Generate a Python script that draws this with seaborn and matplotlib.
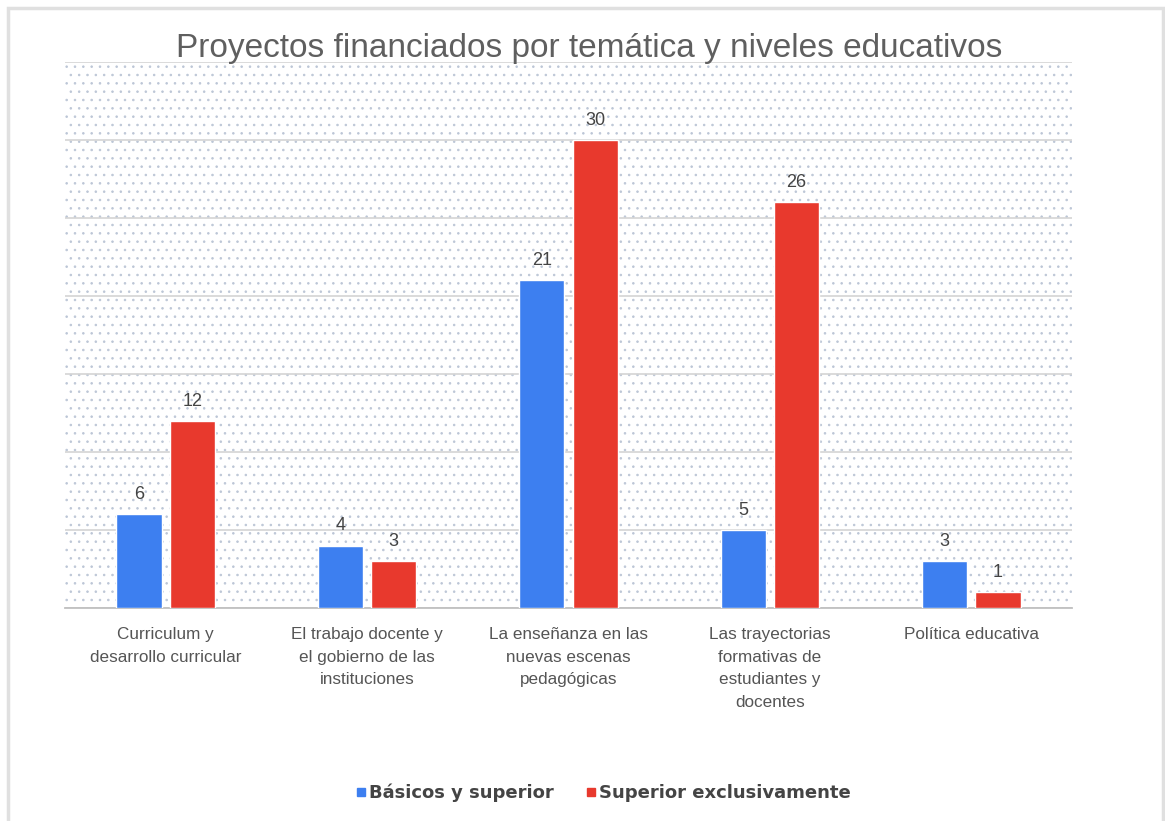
import matplotlib
matplotlib.use("Agg")
import matplotlib.pyplot as plt
import pandas as pd
import seaborn as sns
from matplotlib.lines import Line2D
from matplotlib.patches import Rectangle

TITLE = "Proyectos financiados por temática y niveles educativos"
CATEGORIES = [
    "Curriculum y\ndesarrollo curricular",
    "El trabajo docente y\nel gobierno de las\ninstituciones",
    "La enseñanza en las\nnuevas escenas\npedagógicas",
    "Las trayectorias\nformativas de\nestudiantes y\ndocentes",
    "Política educativa",
]
SERIES = ["Básicos y superior", "Superior exclusivamente"]
BASICOS = [6, 4, 21, 5, 3]
SUPERIOR = [12, 3, 30, 26, 1]
COLORS = ["#3d7ff0", "#e8392d"]

rows = []
for cat, b, s in zip(CATEGORIES, BASICOS, SUPERIOR):
    rows.append({"tema": cat, "nivel": SERIES[0], "valor": b})
    rows.append({"tema": cat, "nivel": SERIES[1], "valor": s})
df = pd.DataFrame(rows)

sns.set_theme(style="white")
plt.rcParams["font.family"] = ["Liberation Sans", "DejaVu Sans"]
plt.rcParams["hatch.linewidth"] = 0.6

fig = plt.figure(figsize=(11.65, 8.21), dpi=100)
fig.patch.set_facecolor("white")
# light frame around the whole chart
fig.patches.append(Rectangle((8 / 1165, -0.05), 1155 / 1165, 1.05 - 8 / 821,
                             transform=fig.transFigure, facecolor="none",
                             edgecolor="#e0e0e0", linewidth=2.5, zorder=0))

ax = fig.add_axes([65 / 1165, 1 - 608 / 821, 1007 / 1165, 546 / 821])
ax.set_facecolor("white")
# dotted background
ax.add_patch(Rectangle((0, 0), 1, 1, transform=ax.transAxes, facecolor="none",
                       edgecolor="#bcc6d6", linewidth=0, hatch="..", zorder=0))

sns.barplot(data=df, x="tema", y="valor", hue="nivel", palette=COLORS,
            width=0.53, gap=0.15, saturation=1, ax=ax, legend=False, zorder=3)

for container in ax.containers:
    ax.bar_label(container, padding=8, fontsize=13, color="#444444")

ax.set_ylim(0, 35)
ax.set_xlim(-0.5, len(CATEGORIES) - 0.5)
ax.set_yticks(range(0, 36, 5))
ax.yaxis.grid(True, color="#d4d4d4", linewidth=1.2, zorder=1)
ax.set_axisbelow(True)
ax.tick_params(axis="y", left=False, labelleft=False)
ax.tick_params(axis="x", length=0, pad=14, labelsize=12.3, labelcolor="#555555")
for lbl in ax.get_xticklabels():
    lbl.set_linespacing(1.62)
ax.set_xlabel("")
ax.set_ylabel("")
for side in ["top", "right", "left"]:
    ax.spines[side].set_visible(False)
ax.spines["bottom"].set_color("#c0c0c0")
ax.spines["bottom"].set_linewidth(1.3)

fig.text(0.506, 1 - 48 / 821, TITLE, ha="center", va="center",
         fontsize=24, color="#5f5f5f")

handles = [Line2D([], [], marker="s", linestyle="none", markersize=6,
                  markerfacecolor=c, markeredgecolor=c) for c in COLORS]
leg = fig.legend(handles, SERIES, loc="center", bbox_to_anchor=(0.517, 1 - 793 / 821),
                 ncol=2, frameon=False, handletextpad=0.05, handlelength=0.8,
                 columnspacing=1.7,
                 prop={"family": "DejaVu Sans", "weight": "bold", "size": 13})
for t in leg.get_texts():
    t.set_color("#444444")

fig.savefig("out.png", dpi=100)
